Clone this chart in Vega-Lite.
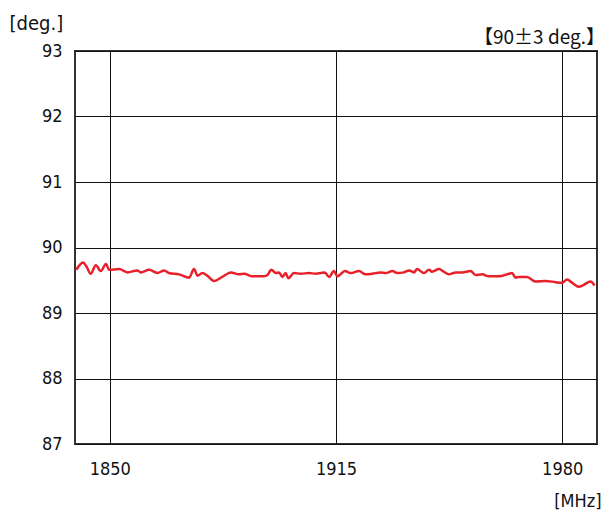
{
  "$schema": "https://vega.github.io/schema/vega-lite/v6.json",
  "width": 522,
  "height": 393,
  "autosize": "none",
  "padding": {"left": 75, "top": 51, "right": 14, "bottom": 69},
  "background": "white",
  "config": {
    "font": "'DejaVu Sans Condensed', 'Liberation Sans', sans-serif",
    "view": {"stroke": "#333333", "strokeWidth": 2}
  },
  "title": {
    "text": "【90±3 deg.】",
    "anchor": "end",
    "frame": "group",
    "orient": "top",
    "fontSize": 19,
    "fontWeight": "normal",
    "font": "Noto Sans CJK JP",
    "color": "#111111",
    "offset": 6,
    "dx": 8,
    "dy": 41
  },
  "data": {
    "values": [
      {"f": 1840.4, "deg": 89.66},
      {"f": 1842.3, "deg": 89.77},
      {"f": 1843.3, "deg": 89.71},
      {"f": 1844.5, "deg": 89.6},
      {"f": 1846.0, "deg": 89.73},
      {"f": 1847.4, "deg": 89.64},
      {"f": 1848.9, "deg": 89.75},
      {"f": 1849.8, "deg": 89.66},
      {"f": 1852.7, "deg": 89.67},
      {"f": 1855.1, "deg": 89.62},
      {"f": 1857.9, "deg": 89.65},
      {"f": 1858.9, "deg": 89.62},
      {"f": 1861.3, "deg": 89.66},
      {"f": 1863.7, "deg": 89.61},
      {"f": 1865.6, "deg": 89.65},
      {"f": 1867.0, "deg": 89.61},
      {"f": 1869.9, "deg": 89.59},
      {"f": 1872.8, "deg": 89.54},
      {"f": 1874.2, "deg": 89.67},
      {"f": 1875.2, "deg": 89.57},
      {"f": 1876.6, "deg": 89.61},
      {"f": 1878.0, "deg": 89.57},
      {"f": 1880.0, "deg": 89.49},
      {"f": 1882.3, "deg": 89.55},
      {"f": 1884.8, "deg": 89.62},
      {"f": 1887.1, "deg": 89.59},
      {"f": 1888.6, "deg": 89.6},
      {"f": 1891.0, "deg": 89.56},
      {"f": 1893.8, "deg": 89.56},
      {"f": 1895.3, "deg": 89.58},
      {"f": 1896.4, "deg": 89.66},
      {"f": 1897.7, "deg": 89.61},
      {"f": 1898.6, "deg": 89.62},
      {"f": 1899.6, "deg": 89.55},
      {"f": 1900.5, "deg": 89.61},
      {"f": 1901.3, "deg": 89.53},
      {"f": 1902.9, "deg": 89.61},
      {"f": 1904.9, "deg": 89.6},
      {"f": 1907.2, "deg": 89.61},
      {"f": 1909.2, "deg": 89.6},
      {"f": 1910.6, "deg": 89.61},
      {"f": 1911.8, "deg": 89.62},
      {"f": 1913.0, "deg": 89.55},
      {"f": 1914.4, "deg": 89.64},
      {"f": 1915.4, "deg": 89.56},
      {"f": 1917.6, "deg": 89.64},
      {"f": 1919.2, "deg": 89.61},
      {"f": 1921.6, "deg": 89.64},
      {"f": 1923.5, "deg": 89.59},
      {"f": 1925.4, "deg": 89.6},
      {"f": 1927.8, "deg": 89.62},
      {"f": 1929.3, "deg": 89.61},
      {"f": 1931.2, "deg": 89.64},
      {"f": 1932.6, "deg": 89.61},
      {"f": 1934.5, "deg": 89.62},
      {"f": 1936.0, "deg": 89.65},
      {"f": 1937.4, "deg": 89.62},
      {"f": 1938.3, "deg": 89.67},
      {"f": 1940.3, "deg": 89.61},
      {"f": 1941.7, "deg": 89.66},
      {"f": 1942.6, "deg": 89.63},
      {"f": 1944.6, "deg": 89.67},
      {"f": 1946.0, "deg": 89.63},
      {"f": 1947.4, "deg": 89.59},
      {"f": 1949.4, "deg": 89.62},
      {"f": 1951.3, "deg": 89.62},
      {"f": 1953.7, "deg": 89.64},
      {"f": 1955.1, "deg": 89.58},
      {"f": 1957.0, "deg": 89.59},
      {"f": 1958.9, "deg": 89.56},
      {"f": 1961.8, "deg": 89.56},
      {"f": 1964.7, "deg": 89.6},
      {"f": 1965.6, "deg": 89.61},
      {"f": 1966.6, "deg": 89.54},
      {"f": 1967.5, "deg": 89.55},
      {"f": 1969.9, "deg": 89.55},
      {"f": 1972.3, "deg": 89.48},
      {"f": 1975.2, "deg": 89.49},
      {"f": 1978.1, "deg": 89.47},
      {"f": 1980.0, "deg": 89.46},
      {"f": 1981.4, "deg": 89.51},
      {"f": 1982.9, "deg": 89.46},
      {"f": 1984.8, "deg": 89.4},
      {"f": 1986.2, "deg": 89.43},
      {"f": 1988.1, "deg": 89.48},
      {"f": 1989.3, "deg": 89.42}
    ]
  },
  "mark": {"type": "line", "color": "#e8202a", "strokeWidth": 2.5, "interpolate": "monotone", "clip": true},
  "encoding": {
    "x": {
      "field": "f",
      "type": "quantitative",
      "scale": {"domain": [1840, 1990], "nice": false, "zero": false},
      "axis": {
        "values": [1850, 1915, 1980],
        "format": "d",
        "grid": true,
        "gridColor": "#111111",
        "gridOpacity": 1,
        "gridWidth": 1,
        "domain": false,
        "ticks": false,
        "labelPadding": 16,
        "labelFontSize": 18,
        "labelColor": "#111111",
        "title": "[MHz]",
        "titleFontSize": 18,
        "titleFontWeight": "normal",
        "titleColor": "#111111",
        "titleAnchor": "end",
        "titleAlign": "right",
        "titleX": 526,
        "titleY": 62,
        "titleBaseline": "alphabetic"
      }
    },
    "y": {
      "field": "deg",
      "type": "quantitative",
      "scale": {"domain": [87, 93], "nice": false, "zero": false},
      "axis": {
        "values": [87, 88, 89, 90, 91, 92, 93],
        "format": "d",
        "grid": true,
        "gridColor": "#111111",
        "gridOpacity": 1,
        "gridWidth": 1,
        "domain": false,
        "ticks": false,
        "labelPadding": 13,
        "labelFontSize": 18,
        "labelColor": "#111111",
        "title": "[deg.]",
        "titleFontSize": 20,
        "titleFontWeight": "normal",
        "titleColor": "#111111",
        "titleAngle": 0,
        "titleAlign": "left",
        "titleBaseline": "alphabetic",
        "titleX": -66,
        "titleY": -22
      }
    }
  }
}
